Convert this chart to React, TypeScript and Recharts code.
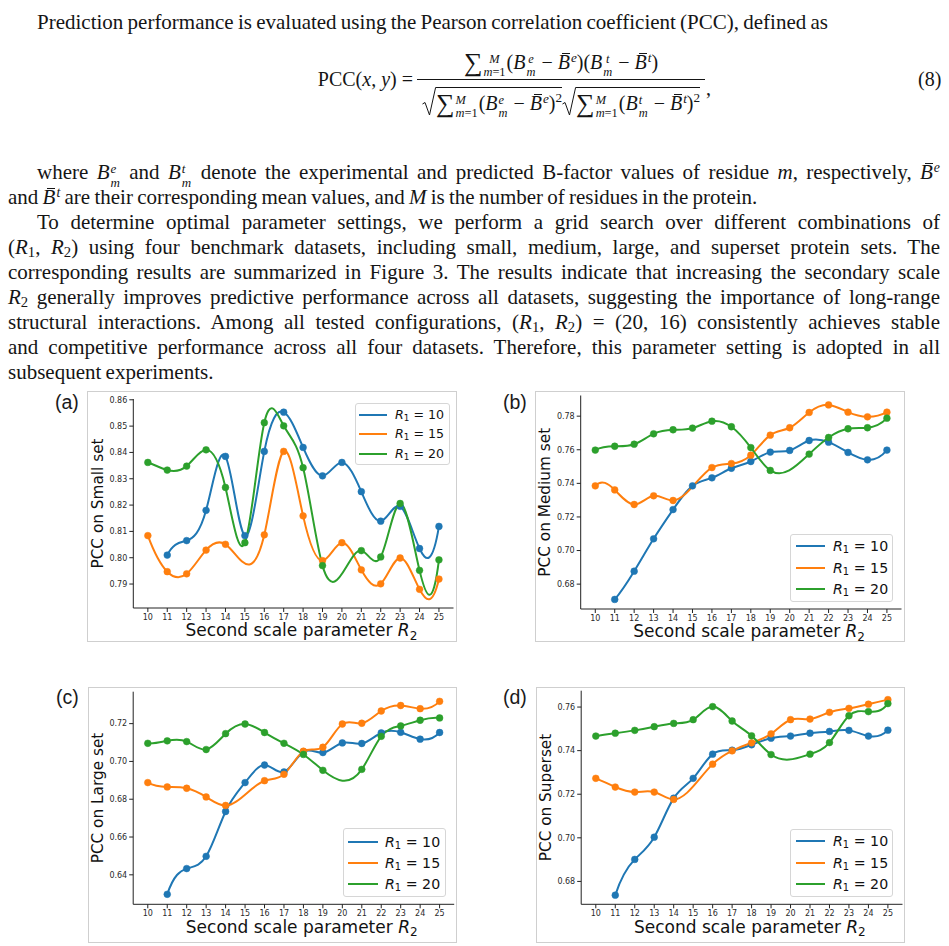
import React from 'react'
import { LineChart, Line, XAxis, YAxis } from 'recharts'

// R2 values on the x axis and the three R1 settings
const r2Values = [10, 11, 12, 13, 14, 15, 16, 17, 18, 19, 20, 21, 22, 23, 24, 25]
const r1Values = ['10', '15', '20']

// PCC per R2 for each R1 (null where R1 == R2 was not run)
const smallR10 = [null, 0.801, 0.8065, 0.818, 0.8385, 0.8084, 0.8404, 0.8553, 0.8419, 0.8311, 0.8362, 0.8251, 0.8139, 0.8195, 0.8035, 0.8119]
const smallR15 = [0.8084, 0.7947, 0.7939, 0.8029, 0.8051, null, 0.8087, 0.8404, 0.8159, 0.7989, 0.8057, 0.7954, 0.7901, 0.7999, 0.788, 0.7919]
const smallR20 = [0.8362, 0.8333, 0.8348, 0.841, 0.8267, 0.8057, 0.8513, 0.8501, 0.8342, 0.797, null, 0.8027, 0.8003, 0.8206, 0.7952, 0.7992]

const mediumR10 = [null, 0.6709, 0.6877, 0.707, 0.7244, 0.7385, 0.7433, 0.749, 0.753, 0.7586, 0.7596, 0.7655, 0.7645, 0.7584, 0.754, 0.7598]
const mediumR15 = [0.7385, 0.7361, 0.7274, 0.7326, 0.7298, null, 0.7494, 0.7518, 0.7568, 0.7687, 0.7731, 0.7822, 0.7867, 0.7824, 0.7796, 0.7824]
const mediumR20 = [0.7598, 0.7621, 0.7633, 0.7695, 0.7719, 0.7729, 0.777, 0.7737, 0.7613, 0.7477, null, 0.7574, 0.7673, 0.7725, 0.7731, 0.7788]

const largeR10 = [null, 0.6297, 0.6433, 0.6498, 0.6735, 0.6888, 0.6981, 0.6944, 0.7051, 0.7047, 0.7098, 0.7095, 0.7151, 0.7154, 0.7118, 0.7153]
const largeR15 = [0.6888, 0.6865, 0.6858, 0.6812, 0.6767, null, 0.6898, 0.6932, 0.7054, 0.7075, 0.7198, 0.7202, 0.7267, 0.7296, 0.7279, 0.7318]
const largeR20 = [0.7096, 0.7109, 0.7105, 0.7063, 0.7147, 0.7198, 0.7153, 0.7096, 0.7037, 0.6953, null, 0.6958, 0.7133, 0.7188, 0.7218, 0.723]

const superR10 = [null, 0.6737, 0.6901, 0.7003, 0.7182, 0.7273, 0.7384, 0.7402, 0.7427, 0.7457, 0.7467, 0.748, 0.7488, 0.7493, 0.7467, 0.7494]
const superR15 = [0.7273, 0.7233, 0.721, 0.721, 0.7176, null, 0.7338, 0.7399, 0.7436, 0.7477, 0.7542, 0.7545, 0.7576, 0.7594, 0.7613, 0.7634]
const superR20 = [0.7467, 0.748, 0.7493, 0.751, 0.7525, 0.7542, 0.7602, 0.7536, 0.7468, 0.7382, null, 0.7384, 0.7437, 0.756, 0.7579, 0.7616]

const smallTicks = [0.79, 0.8, 0.81, 0.82, 0.83, 0.84, 0.85, 0.86]
const mediumTicks = [0.68, 0.7, 0.72, 0.74, 0.76, 0.78]
const largeTicks = [0.64, 0.66, 0.68, 0.7, 0.72]
const superTicks = [0.68, 0.7, 0.72, 0.74, 0.76]

const colors = ['#1f77b4', '#ff7f0e', '#2ca02c']
const sans = '"DejaVu Sans", sans-serif'
const serif = '"Liberation Serif", "Times New Roman", serif'
const ink = '#151515'
const xDomain: [number, number] = [9.25, 25.75]

// small dense solver for the spline system
function solve(A: number[][], b: number[]) {
  const n = b.length
  const m = A.map((row, i) => [...row, b[i]])
  for (let c = 0; c < n; c++) {
    let p = c
    for (let r = c + 1; r < n; r++) if (Math.abs(m[r][c]) > Math.abs(m[p][c])) p = r
    const tmp = m[c]
    m[c] = m[p]
    m[p] = tmp
    for (let r = c + 1; r < n; r++) {
      const f = m[r][c] / m[c][c]
      for (let k = c; k <= n; k++) m[r][k] -= f * m[c][k]
    }
  }
  const x = new Array(n).fill(0)
  for (let r = n - 1; r >= 0; r--) {
    let s = m[r][n]
    for (let k = r + 1; k < n; k++) s -= m[r][k] * x[k]
    x[r] = s / m[r][r]
  }
  return x
}

// cubic spline y(x) through the points, not-a-knot ends
function splineCurve(context: any) {
  let xs: number[] = []
  let ys: number[] = []
  return {
    areaStart() {},
    areaEnd() {},
    lineStart() {
      xs = []
      ys = []
    },
    point(x: number, y: number) {
      xs.push(+x)
      ys.push(+y)
    },
    lineEnd() {
      const n = xs.length
      if (!n) return
      context.moveTo(xs[0], ys[0])
      if (n < 4) {
        for (let i = 1; i < n; i++) context.lineTo(xs[i], ys[i])
        return
      }
      const h = xs.slice(1).map((x, i) => x - xs[i])
      const A = Array.from({ length: n }, () => new Array(n).fill(0))
      const b = new Array(n).fill(0)
      A[0][0] = h[1]
      A[0][1] = -(h[0] + h[1])
      A[0][2] = h[0]
      for (let i = 1; i < n - 1; i++) {
        A[i][i - 1] = h[i - 1]
        A[i][i] = 2 * (h[i - 1] + h[i])
        A[i][i + 1] = h[i]
        b[i] = 6 * ((ys[i + 1] - ys[i]) / h[i] - (ys[i] - ys[i - 1]) / h[i - 1])
      }
      A[n - 1][n - 3] = h[n - 2]
      A[n - 1][n - 2] = -(h[n - 3] + h[n - 2])
      A[n - 1][n - 1] = h[n - 3]
      const M = solve(A, b)
      for (let i = 0; i < n - 1; i++) {
        const hi = h[i]
        const slope = (ys[i + 1] - ys[i]) / hi
        const d0 = slope - (hi * (2 * M[i] + M[i + 1])) / 6
        const d1 = slope + (hi * (M[i] + 2 * M[i + 1])) / 6
        context.bezierCurveTo(xs[i] + hi / 3, ys[i] + (d0 * hi) / 3, xs[i + 1] - hi / 3, ys[i + 1] - (d1 * hi) / 3, xs[i + 1], ys[i + 1])
      }
    },
  }
}

type Box = { left: number; top: number; right: number; bottom: number }
type LegendSpec = { box: Box; rows: number[]; lineFrom: number; lineTo: number; textAt: number; fontSize: number }
type PanelProps = {
  tag: string
  tagAt: [number, number]
  yLabel: string
  series: (number | null)[][]
  yTicks: number[]
  yDomain: [number, number]
  outer: Box
  plot: Box
  legend: LegendSpec
}

// extra room below each panel's border so the axis title never touches the svg edge
const SVG_PAD = 8

function XTitle({ viewBox }: any) {
  const vb = viewBox || { x: 0, y: 0, width: 0 }
  return (
    <text x={vb.x + vb.width / 2 + 8} y={vb.y + 22.5} dy="0.35em" textAnchor="middle" fontFamily={sans} fontSize={17} fill="#111">
      <tspan>Second scale parameter </tspan>
      <tspan fontStyle="italic">R</tspan>
      <tspan fontSize={12} dy={3.5}>2</tspan>
    </text>
  )
}

function YTitle({ viewBox, text }: any) {
  const vb = viewBox || { x: 0, y: 0, width: 0, height: 0 }
  const cx = vb.x + vb.width - 36
  const cy = vb.y + vb.height / 2
  return (
    <text x={cx} y={cy} dy="0.35em" textAnchor="middle" transform={`rotate(-90 ${cx} ${cy})`} fontFamily={sans} fontSize={15.3} fill="#111">
      {text}
    </text>
  )
}

function Legend({ spec }: { spec: LegendSpec }) {
  const { box } = spec
  return (
    <>
      <div style={{ position: 'absolute', left: box.left, top: box.top, width: box.right - box.left, height: box.bottom - box.top, boxSizing: 'border-box', border: '1px solid #d6d6d6', borderRadius: 3, background: 'rgba(255,255,255,0.8)' }} />
      {r1Values.map((r1, i) => (
        <React.Fragment key={r1}>
          <div style={{ position: 'absolute', left: spec.lineFrom, top: spec.rows[i] - 1, width: spec.lineTo - spec.lineFrom, height: 2, background: colors[i] }} />
          <div style={{ position: 'absolute', left: spec.textAt, top: spec.rows[i] - 10, height: 20, lineHeight: '20px', fontSize: spec.fontSize, fontFamily: sans, color: '#111', whiteSpace: 'nowrap' }}>
            <i>R</i>
            <span style={{ fontSize: '0.7em', verticalAlign: '-0.25em', lineHeight: 0 }}>1</span> = {r1}
          </div>
        </React.Fragment>
      ))}
    </>
  )
}

function Panel(p: PanelProps) {
  const { outer, plot } = p
  const width = outer.right - outer.left
  const height = outer.bottom - outer.top
  const rows = r2Values.map((r2, i) => ({ r2, s0: p.series[0][i], s1: p.series[1][i], s2: p.series[2][i] }))
  const tickStyle = { fontSize: 8, fill: '#2a2a2a', fontFamily: sans }
  return (
    <>
      <div style={{ position: 'absolute', left: outer.left, top: outer.top, width, height, boxSizing: 'border-box', border: '1px solid #cfcfcf' }} />
      <div style={{ position: 'absolute', left: p.tagAt[0], top: p.tagAt[1] - 12, height: 24, lineHeight: '24px', fontFamily: '"Liberation Sans", sans-serif', fontSize: 19.5, color: '#1a1a1a' }}>{p.tag}</div>
      <div style={{ position: 'absolute', left: outer.left, top: outer.top }}>
        <LineChart width={width} height={height + SVG_PAD} data={rows} style={{ overflow: 'visible' }} margin={{ top: plot.top - outer.top, right: outer.right - plot.right, bottom: 0, left: 0 }}>
          <XAxis dataKey="r2" type="number" domain={xDomain} allowDataOverflow ticks={r2Values} interval={0} height={outer.bottom - plot.bottom + SVG_PAD} tickSize={4} tickMargin={2} stroke="#222" tick={tickStyle} label={<XTitle />} />
          <XAxis xAxisId="top" orientation="top" dataKey="r2" type="number" domain={xDomain} allowDataOverflow height={0} tick={false} tickLine={false} stroke="#222" />
          <YAxis type="number" domain={p.yDomain} allowDataOverflow ticks={p.yTicks} interval={0} width={plot.left - outer.left} tickSize={4} tickMargin={2} stroke="#222" tick={tickStyle} tickFormatter={(v: number) => v.toFixed(2)} label={<YTitle text={p.yLabel} />} />
          <YAxis yAxisId="right" orientation="right" type="number" domain={p.yDomain} allowDataOverflow width={0} tick={false} tickLine={false} stroke="#222" />
          {p.series.map((_, i) => (
            <Line key={i} dataKey={`s${i}`} type={splineCurve as any} connectNulls stroke={colors[i]} strokeWidth={2} dot={{ r: 3.4, fill: colors[i], stroke: colors[i], strokeWidth: 0.5 }} activeDot={false} isAnimationActive={false} />
          ))}
        </LineChart>
      </div>
      <Legend spec={p.legend} />
    </>
  )
}

// --- text helpers ---
function Scripts({ sup, sub }: { sup: React.ReactNode; sub: React.ReactNode }) {
  return (
    <span style={{ display: 'inline-flex', flexDirection: 'column', fontSize: '0.62em', lineHeight: '1.08em', verticalAlign: 6, marginLeft: 1, marginRight: 1 }}>
      <span>{sup}</span>
      <span>{sub}</span>
    </span>
  )
}

function Bm({ s }: { s: string }) {
  return (
    <>
      <i>B</i>
      <Scripts sup={<i>{s}</i>} sub={<i>m</i>} />
    </>
  )
}

function Bbar({ s }: { s: string }) {
  return (
    <>
      <span style={{ position: 'relative', display: 'inline-block', lineHeight: 1 }}>
        <i>B</i>
        <span style={{ position: 'absolute', left: '0.22em', right: 0, top: '0.05em', borderTop: `1px solid ${ink}` }} />
      </span>
      <span style={{ fontSize: '0.66em', verticalAlign: 7, lineHeight: 0, fontStyle: 'italic', marginLeft: 1 }}>{s}</span>
    </>
  )
}

function Rsub({ n }: { n: string }) {
  return (
    <>
      <i>R</i>
      <span style={{ fontSize: '0.7em', verticalAlign: -3, lineHeight: 0 }}>{n}</span>
    </>
  )
}

function Sum() {
  return (
    <>
      <span style={{ fontSize: '1.3em', verticalAlign: -2, lineHeight: 0 }}>∑</span>
      <Scripts sup={<i>M</i>} sub={<><i>m</i>=1</>} />
    </>
  )
}

function Root({ children }: { children: React.ReactNode }) {
  return (
    <span style={{ display: 'flex', alignItems: 'stretch' }}>
      <svg width={14} height={29} viewBox="0 0 14 29" style={{ display: 'block' }}>
        <path d="M0.5 17 L3 15.5 L7.5 28 L13.6 0.5 L14 0.5" fill="none" stroke={ink} strokeWidth={1} />
      </svg>
      <span style={{ borderTop: `1px solid ${ink}`, paddingTop: 2, lineHeight: '26px', whiteSpace: 'nowrap' }}>{children}</span>
    </span>
  )
}

function TextRow({ y, left = 8, justify = true, children }: { y: number; left?: number; justify?: boolean; children: React.ReactNode }) {
  return (
    <div style={{ position: 'absolute', top: y - 12.5, left, width: 940 - left, height: 25, lineHeight: '25px', whiteSpace: 'nowrap', wordSpacing: -1, textAlign: justify ? 'justify' : 'left', textAlignLast: justify ? 'justify' : 'left' }}>
      {children}
    </div>
  )
}

export default function App() {
  return (
    <div style={{ position: 'absolute', left: 0, top: 0, width: 949, height: 946, overflow: 'hidden', background: '#fff', fontFamily: serif, fontSize: 21, color: ink }}>
      <TextRow y={22} left={37} justify={false}>Prediction performance is evaluated using the Pearson correlation coefficient (PCC), defined as</TextRow>

      {/* equation (8) */}
      <div style={{ fontSize: 20 }}>
        <div style={{ position: 'absolute', right: 949 - 413, top: 67, height: 25, lineHeight: '25px', whiteSpace: 'nowrap' }}>
          PCC(<i>x</i>, <i>y</i>) =
        </div>
        <div style={{ position: 'absolute', left: 417, top: 50, width: 288, height: 25, lineHeight: '25px', textAlign: 'center', whiteSpace: 'nowrap' }}>
          <Sum />(<Bm s="e" /> − <Bbar s="e" />)(<Bm s="t" /> − <Bbar s="t" />)
        </div>
        <div style={{ position: 'absolute', left: 417, top: 79, width: 288, borderTop: `1px solid ${ink}` }} />
        <div style={{ position: 'absolute', left: 417, top: 87, width: 288, display: 'flex', justifyContent: 'center' }}>
          <Root>
            <Sum />(<Bm s="e" /> − <Bbar s="e" />)<span style={{ fontSize: '0.66em', verticalAlign: 8, lineHeight: 0 }}>2</span>
          </Root>
          <Root>
            <Sum />(<Bm s="t" /> − <Bbar s="t" />)<span style={{ fontSize: '0.66em', verticalAlign: 8, lineHeight: 0 }}>2</span>
          </Root>
        </div>
        <div style={{ position: 'absolute', left: 706, top: 76, lineHeight: '25px' }}>,</div>
        <div style={{ position: 'absolute', left: 918, top: 67, lineHeight: '25px' }}>(8)</div>
      </div>

      <TextRow y={172} left={37}>
        where <Bm s="e" /> and <Bm s="t" /> denote the experimental and predicted B-factor values of residue <i>m</i>, respectively, <Bbar s="e" />
      </TextRow>
      <TextRow y={197} justify={false}>
        and <Bbar s="t" /> are their corresponding mean values, and <i>M</i> is the number of residues in the protein.
      </TextRow>
      <TextRow y={222} left={37}>To determine optimal parameter settings, we perform a grid search over different combinations of</TextRow>
      <TextRow y={247}>
        (<Rsub n="1" />, <Rsub n="2" />) using four benchmark datasets, including small, medium, large, and superset protein sets. The
      </TextRow>
      <TextRow y={272}>corresponding results are summarized in Figure 3. The results indicate that increasing the secondary scale</TextRow>
      <TextRow y={297}>
        <Rsub n="2" /> generally improves predictive performance across all datasets, suggesting the importance of long-range
      </TextRow>
      <TextRow y={322}>
        structural interactions. Among all tested configurations, (<Rsub n="1" />, <Rsub n="2" />) = (20, 16) consistently achieves stable
      </TextRow>
      <TextRow y={347}>and competitive performance across all four datasets. Therefore, this parameter setting is adopted in all</TextRow>
      <TextRow y={372} justify={false}>subsequent experiments.</TextRow>

      <Panel
        tag="(a)"
        tagAt={[55, 402]}
        yLabel="PCC on Small set"
        series={[smallR10, smallR15, smallR20]}
        yTicks={smallTicks}
        yDomain={[0.7809, 0.8603]}
        outer={{ left: 87, top: 391, right: 457, bottom: 642 }}
        plot={{ left: 133.3, top: 399, right: 453.5, bottom: 608 }}
        legend={{ box: { left: 355, top: 403, right: 450, bottom: 465 }, rows: [415, 434.3, 453.5], lineFrom: 359, lineTo: 387, textAt: 395, fontSize: 12.6 }}
      />
      <Panel
        tag="(b)"
        tagAt={[503, 402]}
        yLabel="PCC on Medium set"
        series={[mediumR10, mediumR15, mediumR20]}
        yTicks={mediumTicks}
        yDomain={[0.6652, 0.7923]}
        outer={{ left: 535, top: 391, right: 905, bottom: 642 }}
        plot={{ left: 580.7, top: 395.5, right: 901.5, bottom: 609 }}
        legend={{ box: { left: 790, top: 534, right: 893, bottom: 602 }, rows: [546, 567.5, 589], lineFrom: 796, lineTo: 825, textAt: 833, fontSize: 14.2 }}
      />
      <Panel
        tag="(c)"
        tagAt={[56, 697]}
        yLabel="PCC on Large set"
        series={[largeR10, largeR15, largeR20]}
        yTicks={largeTicks}
        yDomain={[0.6244, 0.7369]}
        outer={{ left: 87.5, top: 687, right: 457, bottom: 943 }}
        plot={{ left: 132.7, top: 691.7, right: 453.7, bottom: 904.3 }}
        legend={{ box: { left: 342.7, top: 828.3, right: 446, bottom: 897.3 }, rows: [842.3, 863.3, 884], lineFrom: 348, lineTo: 378, textAt: 385, fontSize: 14.2 }}
      />
      <Panel
        tag="(d)"
        tagAt={[503, 697]}
        yLabel="PCC on Superset"
        series={[superR10, superR15, superR20]}
        yTicks={superTicks}
        yDomain={[0.6695, 0.7675]}
        outer={{ left: 535.5, top: 687, right: 905, bottom: 943 }}
        plot={{ left: 580.7, top: 690.7, right: 902, bottom: 904.3 }}
        legend={{ box: { left: 790, top: 829, right: 893, bottom: 897.3 }, rows: [840.7, 862.7, 884], lineFrom: 796, lineTo: 825, textAt: 833, fontSize: 14.2 }}
      />
    </div>
  )
}
